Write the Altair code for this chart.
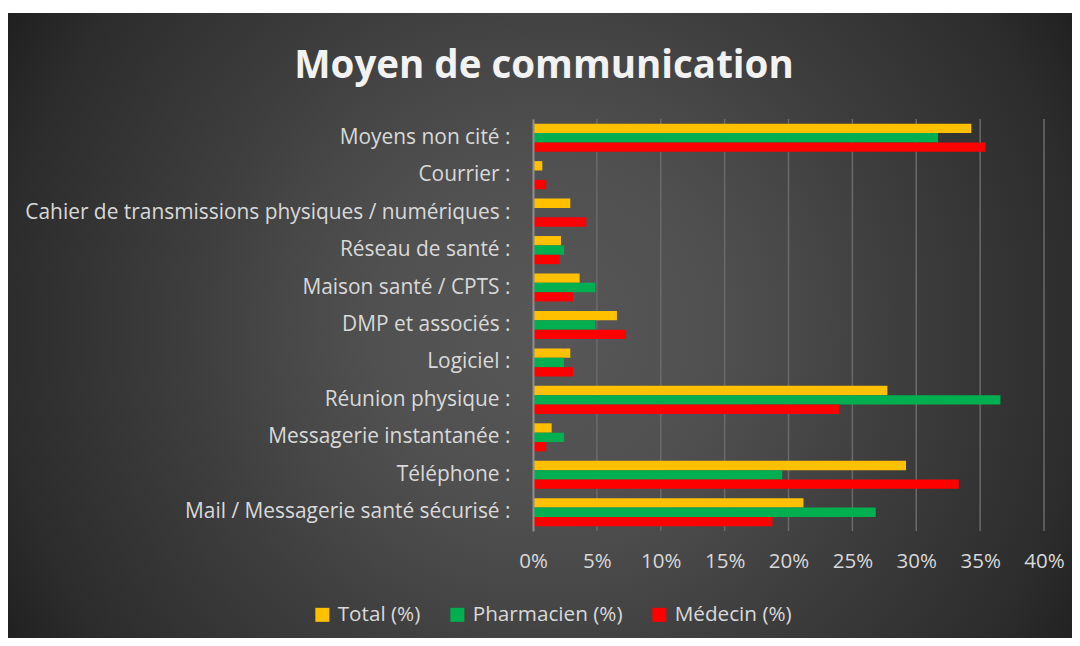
import altair as alt
import pandas as pd

categories = [
    "Moyens non cité :",
    "Courrier :",
    "Cahier de transmissions physiques / numériques :",
    "Réseau de santé :",
    "Maison santé / CPTS :",
    "DMP et associés :",
    "Logiciel :",
    "Réunion physique :",
    "Messagerie instantanée :",
    "Téléphone :",
    "Mail / Messagerie santé sécurisé :",
]
series = ["Total (%)", "Pharmacien (%)", "Médecin (%)"]
total = [34.31, 0.73, 2.92, 2.19, 3.65, 6.57, 2.92, 27.74, 1.46, 29.20, 21.17]
pharmacien = [31.71, 0.0, 0.0, 2.44, 4.88, 4.88, 2.44, 36.59, 2.44, 19.51, 26.83]
medecin = [35.42, 1.04, 4.17, 2.08, 3.13, 7.29, 3.13, 23.96, 1.04, 33.33, 18.75]
colors = ["#FFC000", "#00B050", "#FF0000"]
x_ticks = [0, 5, 10, 15, 20, 25, 30, 35, 40]
grid_ticks = [5, 10, 15, 20, 25, 30, 35, 40]

rows = []
for name, vals in zip(series, [total, pharmacien, medecin]):
    for c, v in zip(categories, vals):
        rows.append({"cat": c, "serie": name, "val": v})
df = pd.DataFrame(rows)

FONT = "Open Sans"
TXT = "#d9d9d9"
W, H = 511, 412

# background: radial gradient panel (decoration)
bg = alt.Chart(pd.DataFrame({"k": [0]})).mark_rect(
    fill={
        "gradient": "radial",
        "x1": 0.5, "y1": 0.5, "r1": 0,
        "x2": 0.5, "y2": 0.5, "r2": 0.5,
        "stops": [
            {"offset": 0.0, "color": "#575757"},
            {"offset": 0.27, "color": "#505050"},
            {"offset": 0.42, "color": "#474747"},
            {"offset": 0.55, "color": "#3e3e3e"},
            {"offset": 0.85, "color": "#2c2c2c"},
            {"offset": 0.97, "color": "#202020"},
            {"offset": 1.0, "color": "#1e1e1e"},
        ],
    },
    stroke=None,
).encode(
    x=alt.value(-629), x2=alt.value(651),
    y=alt.value(-429), y2=alt.value(851),
)

strip = alt.Chart(pd.DataFrame({"k": [0]})).mark_rect(color="white").encode(
    x=alt.value(-530), x2=alt.value(560),
    y=alt.value(-120), y2=alt.value(-106),
)

xscale = alt.Scale(domain=[0, 40], nice=False, zero=True)
xaxis = alt.Axis(
    values=x_ticks, labelExpr="datum.value + '%'", labelFlush=False,
    labelFont=FONT, labelFontSize=20.5, labelColor=TXT, labelPadding=20,
    ticks=False, grid=False, domain=False, zindex=1, title=None,
)

grid = alt.Chart(pd.DataFrame({"t": grid_ticks})).mark_rule(
    color="#6a6a6a", strokeWidth=1.5
).encode(x=alt.X("t:Q", scale=xscale, axis=xaxis, title=None))

bars = alt.Chart(df).mark_bar().encode(
    y=alt.Y(
        "cat:N", sort=categories, title=None,
        scale=alt.Scale(paddingInner=0.25, paddingOuter=0.125),
        axis=alt.Axis(
            labelFont=FONT, labelFontSize=20.9, labelColor=TXT, labelPadding=23,
            labelLimit=800, ticks=False, grid=False, domain=True,
            domainColor="#8f8f8f", domainWidth=2, zindex=1,
        ),
    ),
    yOffset=alt.YOffset("serie:N", sort=series,
                        scale=alt.Scale(paddingInner=0, paddingOuter=0)),
    x=alt.X("val:Q", scale=xscale, title=None, axis=xaxis),
    color=alt.Color(
        "serie:N",
        scale=alt.Scale(domain=series, range=colors),
        legend=alt.Legend(
            title=None, orient="none", direction="horizontal",
            legendX=-221, legendY=485,
            symbolType="square", symbolSize=196, symbolStrokeWidth=0,
            labelFont=FONT, labelFontSize=20.7, labelColor=TXT,
            labelOffset=5, columnPadding=26, padding=0,
        ),
    ),
)

chart = alt.layer(bg, strip, grid, bars).properties(
    width=W, height=H,
    padding={"left": 525, "top": 111, "right": 28, "bottom": 107},
    autosize=alt.AutoSizeParams(type="none"),
    title=alt.Title(
        "Moyen de communication", font=FONT, fontSize=38.5, fontWeight="bold",
        color="#f2f2f2", anchor="middle", frame="bounds",
        baseline="alphabetic", offset=-426,
    ),
).configure_view(stroke=None).configure(background="white")

chart.save("out.html", embed_options={"renderer": "svg", "actions": False})
